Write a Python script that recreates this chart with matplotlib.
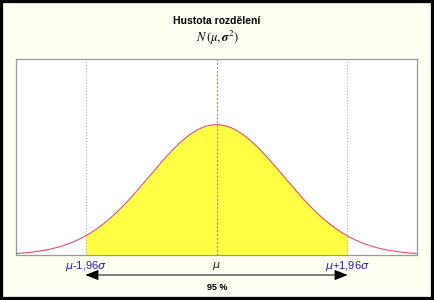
import numpy as np
import matplotlib
matplotlib.use("Agg")
import matplotlib.pyplot as plt
from matplotlib.patches import Rectangle

# parameters of the chart
mu = 0.0
sigma = 1.0
z = 1.96
x_range = (-3.0, 3.0)
y_range = (0.0, 0.6)
title = "Hustota rozdělení"
subtitle = r"$N\,(\mu,\boldsymbol{\sigma}^2)$"
tick_labels = [r"$\mu$-1,96$\sigma$", r"$\mu$", r"$\mu$+1,96$\sigma$"]
coverage_label = "95 %"

x = np.linspace(x_range[0], x_range[1], 601)
pdf = np.exp(-0.5 * ((x - mu) / sigma) ** 2) / (sigma * np.sqrt(2 * np.pi))

fig = plt.figure(figsize=(4.34, 3.00), dpi=100, facecolor="#FFFEF2")
ax = fig.add_axes([16 / 434, 45 / 300, 401 / 434, 196 / 300])
ax.set_facecolor("white")

lo, hi = mu - z * sigma, mu + z * sigma
mask = (x >= lo) & (x <= hi)
ax.fill_between(x[mask], 0, pdf[mask], color="#FFFF44", lw=0, zorder=1)
ax.plot(x, pdf, color="#E0506A", lw=0.8, zorder=3)

for xv in (lo, hi):
    ax.axvline(xv, color="#A8A8A8", ls=(0, (1, 2)), lw=0.7, zorder=2)
ax.axvline(mu, color="#8A8A60", ls=(0, (2, 2)), lw=0.7, zorder=2)

ax.set_xlim(*x_range)
ax.set_ylim(*y_range)
ax.set_xticks([])
ax.set_yticks([])
for s in ax.spines.values():
    s.set_color("#9A9A9A")
    s.set_linewidth(0.9)

# title
fig.text(0.5, 1 - 21 / 300, title, ha="center", va="center",
         fontsize=7.5, fontweight="bold", family="Liberation Sans")
fig.text(0.5, 1 - 38 / 300, subtitle, ha="center", va="center",
         fontsize=9, math_fontfamily="stix")

# labels under axis
colors = ["#2020C0", "#202020", "#2020C0"]
for xv, lab, c in zip((lo, mu, hi), tick_labels, colors):
    fig_y = 1 - 266 / 300
    ax.annotate(lab, xy=(xv, fig_y), xycoords=("data", "figure fraction"),
                ha="center", va="center", fontsize=8, color=c,
                family="Liberation Sans", annotation_clip=False)

ax.annotate("", xy=(lo, 1 - 275 / 300), xytext=(hi, 1 - 275 / 300),
            xycoords=("data", "figure fraction"),
            textcoords=("data", "figure fraction"),
            arrowprops=dict(arrowstyle="<|-|>,head_length=0.8,head_width=0.32",
                            color="black", lw=0.7, shrinkA=0, shrinkB=0),
            annotation_clip=False)
fig.text(0.5, 1 - 287 / 300, coverage_label, ha="center", va="center",
         fontsize=6.5, fontweight="bold", family="Liberation Sans")

# black outer frame
fig.patches.append(Rectangle((0, 0), 1, 1, transform=fig.transFigure,
                             fill=False, edgecolor="black", lw=4.5))

fig.savefig("out.png", dpi=100, facecolor=fig.get_facecolor())
